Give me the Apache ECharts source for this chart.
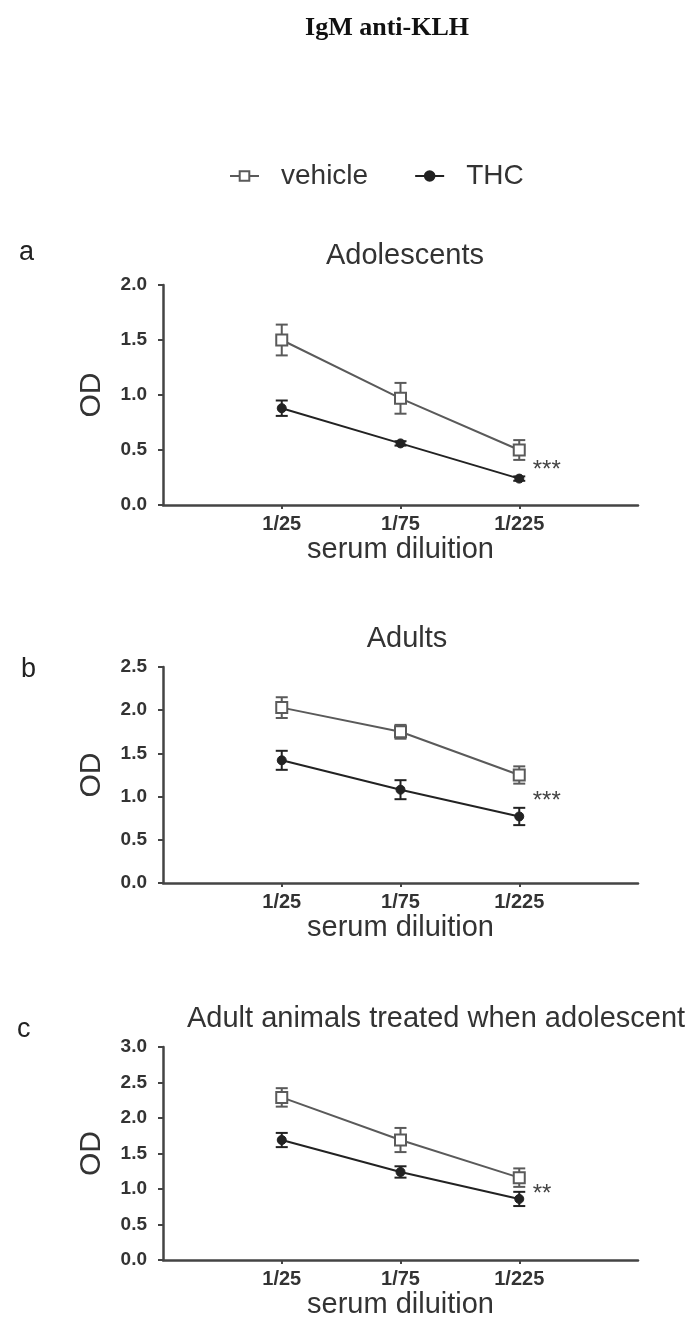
<!DOCTYPE html>
<html>
<head>
<meta charset="utf-8">
<script src="https://cdn.jsdelivr.net/npm/echarts@6/dist/echarts.min.js"></script>
<style>
html,body{margin:0;padding:0;background:#fff;}
#c{width:692px;height:1320px;}
</style>
</head>
<body>
<div id="c"></div>
<script>
// ---- data ----
const categories = ['1/25', '1/75', '1/225'];
const seriesNames = ['vehicle', 'THC'];

const panelTitles = ['Adolescents', 'Adults', 'Adult animals treated when adolescent'];
const panelLetters = ['a', 'b', 'c'];
const yMax = [2.0, 2.5, 3.0];
const yInterval = 0.5;
const sigText = ['***', '***', '**'];

const vehicleA = [1.50, 0.97, 0.50];
const vehicleAErr = [0.14, 0.14, 0.09];
const thcA = [0.88, 0.56, 0.24];
const thcAErr = [0.07, 0.02, 0.02];

const vehicleB = [2.03, 1.75, 1.25];
const vehicleBErr = [0.12, 0.08, 0.10];
const thcB = [1.42, 1.08, 0.77];
const thcBErr = [0.11, 0.11, 0.10];

const vehicleC = [2.29, 1.69, 1.16];
const vehicleCErr = [0.13, 0.17, 0.13];
const thcC = [1.69, 1.24, 0.86];
const thcCErr = [0.10, 0.08, 0.10];

const panels = [
  {veh: vehicleA, vehErr: vehicleAErr, thc: thcA, thcErr: thcAErr},
  {veh: vehicleB, vehErr: vehicleBErr, thc: thcB, thcErr: thcBErr},
  {veh: vehicleC, vehErr: vehicleCErr, thc: thcC, thcErr: thcCErr}
];

// ---- layout / style ----
const FONT = 'Liberation Sans, Arial, sans-serif';
const gridTops = [285, 667, 1047];
const gridHeights = [220, 216, 219];
const gridLeft = 163, gridRight = 54;
const titleTops = [236, 619, 999];
const titleLeft = [400, 402, 182];
const titleAlign = ['center', 'center', 'left'];
const letterTops = [234, 651, 1011];
const letterLeft = [14, 16, 12];
const vehColor = '#5a5a5a';
const thcColor = '#222';
const axisColor = '#444';

const xCats = [''].concat(categories, ['']);

const chart = echarts.init(document.getElementById('c'), null, {renderer: 'canvas'});

const grids = [], xAxes = [], yAxes = [], series = [], titles = [];

titles.push({
  text: 'IgM anti-KLH', left: 382, top: 10, textAlign: 'center',
  textStyle: {fontFamily: 'Liberation Serif, Times New Roman, serif', fontWeight: 'bold', fontSize: 26, color: '#111'}
});

function errRender(color, capW) {
  return function (params, api) {
    const lo = api.coord([api.value(0), api.value(1)]);
    const hi = api.coord([api.value(0), api.value(2)]);
    const x = lo[0];
    const st = {stroke: color, lineWidth: 2};
    return {
      type: 'group',
      children: [
        {type: 'line', shape: {x1: x, y1: lo[1], x2: x, y2: hi[1]}, style: st},
        {type: 'line', shape: {x1: x - capW, y1: lo[1], x2: x + capW, y2: lo[1]}, style: st},
        {type: 'line', shape: {x1: x - capW, y1: hi[1], x2: x + capW, y2: hi[1]}, style: st}
      ]
    };
  };
}

panels.forEach((p, i) => {
  grids.push({left: gridLeft, right: gridRight, top: gridTops[i], height: gridHeights[i], containLabel: false});
  titles.push({
    text: panelTitles[i], left: titleLeft[i], top: titleTops[i], textAlign: titleAlign[i],
    textStyle: {fontFamily: FONT, fontWeight: 'normal', fontSize: 29, color: '#333'}
  });
  titles.push({
    text: panelLetters[i], left: letterLeft[i], top: letterTops[i],
    textStyle: {fontFamily: FONT, fontWeight: 'normal', fontSize: 27, color: '#222'}
  });
  xAxes.push({
    type: 'category', gridIndex: i, data: xCats, boundaryGap: false,
    name: 'serum diluition', nameLocation: 'middle', nameGap: 30,
    nameTextStyle: {fontFamily: FONT, fontSize: 29, color: '#333'},
    axisLine: {lineStyle: {color: axisColor, width: 2.5}},
    axisTick: {show: true, length: 4, lineStyle: {color: axisColor, width: 2},
      interval: (idx) => idx >= 1 && idx <= categories.length},
    axisLabel: {show: true, interval: 0, margin: 9, fontFamily: FONT, fontWeight: 'bold', fontSize: 20, color: '#333'},
    splitLine: {show: false}
  });
  yAxes.push({
    type: 'value', gridIndex: i, min: 0, max: yMax[i], interval: yInterval,
    name: 'OD', nameLocation: 'middle', nameRotate: 90, nameGap: 56,
    nameTextStyle: {fontFamily: FONT, fontSize: 30, color: '#333'},
    axisLine: {show: true, lineStyle: {color: axisColor, width: 2.5}},
    axisTick: {show: true, length: 5, lineStyle: {color: axisColor, width: 2}},
    axisLabel: {margin: 16, fontFamily: FONT, fontWeight: 'bold', fontSize: 19, color: '#333',
      formatter: (v) => v.toFixed(1)},
    splitLine: {show: false}
  });

  // error bars
  series.push({
    type: 'custom', name: 'vehicle-err', xAxisIndex: i, yAxisIndex: i, z: 2,
    renderItem: errRender(vehColor, 6), encode: {x: 0, y: [1, 2]},
    data: categories.map((c, k) => [c, p.veh[k] - p.vehErr[k], p.veh[k] + p.vehErr[k]]),
    silent: true
  });
  series.push({
    type: 'custom', name: 'THC-err', xAxisIndex: i, yAxisIndex: i, z: 2,
    renderItem: errRender(thcColor, 6), encode: {x: 0, y: [1, 2]},
    data: categories.map((c, k) => [c, p.thc[k] - p.thcErr[k], p.thc[k] + p.thcErr[k]]),
    silent: true
  });

  // lines
  series.push({
    type: 'line', name: seriesNames[0], xAxisIndex: i, yAxisIndex: i, z: 3,
    data: categories.map((c, k) => [c, p.veh[k]]),
    symbol: 'rect', symbolSize: 11, showAllSymbol: true,
    lineStyle: {color: vehColor, width: 2},
    itemStyle: {color: '#fff', borderColor: vehColor, borderWidth: 2},
    animation: false
  });
  const last = categories.length - 1;
  series.push({
    type: 'line', name: seriesNames[1], xAxisIndex: i, yAxisIndex: i, z: 4,
    data: categories.map((c, k) => [c, p.thc[k]]),
    symbol: 'circle', symbolSize: 9, showAllSymbol: true,
    lineStyle: {color: thcColor, width: 2},
    itemStyle: {color: thcColor, borderColor: thcColor, borderWidth: 1},
    markPoint: {
      symbol: 'circle', symbolSize: 1, itemStyle: {color: 'rgba(0,0,0,0)'},
      label: {show: true, position: 'right', distance: 0, offset: [13, 6], formatter: sigText[i],
        fontFamily: FONT, fontSize: 24, color: '#444'},
      data: [{coord: [categories[last], (p.veh[last] + p.thc[last]) / 2]}],
      silent: true
    },
    animation: false
  });
});

chart.setOption({
  animation: false,
  backgroundColor: '#fff',
  title: titles,
  legend: {
    data: seriesNames, left: 224, top: 157, itemWidth: 29, itemHeight: 12, itemGap: 46,
    textStyle: {fontFamily: FONT, fontSize: 28, color: '#333', padding: [0, 0, 0, 17]},
    selectedMode: false
  },
  grid: grids,
  xAxis: xAxes,
  yAxis: yAxes,
  series: series
});
</script>
</body>
</html>
